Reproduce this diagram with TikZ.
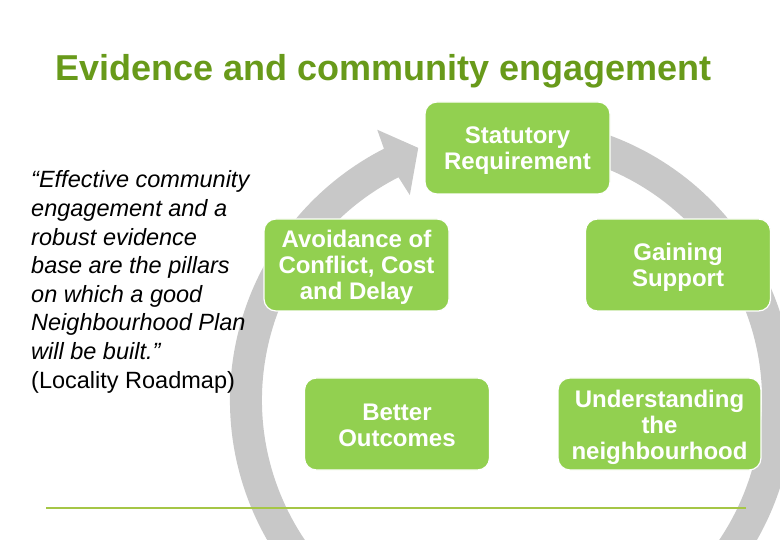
\documentclass[tikz,border=0pt]{standalone}
\usepackage{fontspec}
\setmainfont{Liberation Sans}
\usetikzlibrary{calc}
\definecolor{boxgreen}{RGB}{146,208,80}
\definecolor{titlegreen}{RGB}{104,154,26}
\definecolor{ringgray}{RGB}{200,200,200}
\definecolor{rulegreen}{RGB}{165,198,70}
\begin{document}
\begin{tikzpicture}[x=1pt,y=1pt,
  stepbox/.style={fill=boxgreen, draw=white, line width=1.2pt, rounded corners=12pt,
    minimum width=185pt, minimum height=92pt, inner sep=0pt},
  steptext/.style={inner sep=0pt, text=white, align=center,
    font=\fontsize{24}{26}\selectfont\bfseries},
  quoteline/.style={anchor=base west, inner sep=0pt, font=\fontsize{23.5}{28.6}\selectfont\itshape},
  plainline/.style={anchor=base west, inner sep=0pt, font=\fontsize{23.5}{28.6}\selectfont}]
\useasboundingbox (0,0) rectangle (780,-540);
\fill[white] (0,0) rectangle (780,-540);

% cycle ring with arrowhead
\coordinate (c) at (512,-400);
\fill[ringgray] ($(c)+(80:282)$) arc[start angle=80, end angle=-243, radius=282]
  -- ($(c)+(-243.5:302)$) -- ($(c)+(-249.6:269)$) -- ($(c)+(-243.5:229)$)
  -- ($(c)+(-243:250)$) arc[start angle=-243, end angle=80, radius=250] -- cycle;

% title
\node[anchor=base west, inner sep=0pt, text=titlegreen,
  font=\fontsize{36}{40}\selectfont\bfseries] (title) at (55,-81) {Evidence and community engagement};

% quote
\node[quoteline] (q1) at (31,-188) {“Effective community};
\node[quoteline] (q2) at (31,-216.6) {engagement and a};
\node[quoteline] (q3) at (31,-245.2) {robust evidence};
\node[quoteline] (q4) at (31,-273.8) {base are the pillars};
\node[quoteline] (q5) at (31,-302.4) {on which a good};
\node[quoteline] (q6) at (31,-331) {Neighbourhood Plan};
\node[quoteline] (q7) at (31,-359.6) {will be built.”};
\node[plainline] (q8) at (31,-388.2) {(Locality Roadmap)};

% boxes
\node[stepbox] (stat) at (517.5,-148) {};
\node[stepbox] (avoid) at (356.5,-265) {};
\node[stepbox] (gain) at (678,-265) {};
\node[stepbox] (better) at (397,-424) {};
\node[stepbox, minimum width=203pt] (under) at (659.5,-424) {};

\node[steptext] (statt) at ([yshift=-3pt]stat.center) {Statutory\\Requirement};
\node[steptext] (avoidt) at ([yshift=-2pt]avoid.center) {Avoidance of\\Conflict, Cost\\and Delay};
\node[steptext] (gaint) at ([yshift=-2pt]gain.center) {Gaining\\Support};
\node[steptext] (bettert) at ([yshift=-1pt]better.center) {Better\\Outcomes};
\node[steptext] (undert) at ([yshift=-3pt]under.center) {Understanding\\the\\neighbourhood};

% bottom rule
\coordinate (r1) at (46,-508);
\coordinate (r2) at (746,-508);
\draw[rulegreen, line width=1.2pt] (r1) -- (r2);
\end{tikzpicture}
\end{document}
